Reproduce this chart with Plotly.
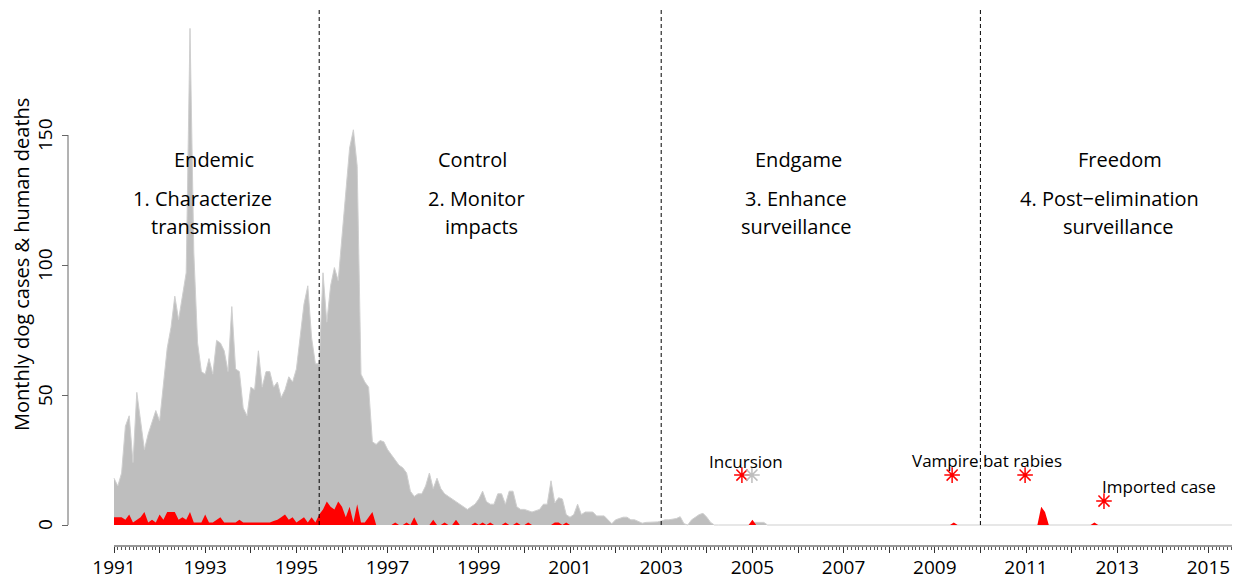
import plotly.graph_objects as go

# ---------------- data ----------------
start_year = 1991
# Monthly dog cases (grey), one list per year, Jan..Dec
dog_1991 = [18, 15, 20, 38, 42, 24, 51, 40, 29, 35, 40, 44]
dog_1992 = [40, 55, 68, 76, 88, 79, 88, 97, 191, 105, 70, 59]
dog_1993 = [58, 64, 58, 71, 70, 67, 59, 84, 60, 59, 45, 42]
dog_1994 = [53, 52, 67, 53, 59, 59, 53, 55, 49, 52, 57, 55]
dog_1995 = [60, 72, 85, 92, 72, 62, 62, 97, 78, 92, 99, 94]
dog_1996 = [110, 128, 145, 152, 138, 58, 55, 53, 32, 31, 32.5, 32]
dog_1997 = [29, 27, 25, 23, 22, 20, 13, 11, 12, 12, 15, 20]
dog_1998 = [14, 18, 14, 12, 11, 10, 9, 8, 7, 6, 7, 8]
dog_1999 = [10, 13, 9, 8, 8, 12, 12, 8, 13, 13, 7, 6]
dog_2000 = [6, 5.5, 5, 5.5, 6, 8, 8, 17, 8.5, 10.5, 10, 4]
dog_2001 = [3, 4, 8, 4, 5, 5, 5, 3.5, 3.5, 3.5, 2, 0.5]
dog_2002 = [2, 2.5, 3, 3, 2, 2, 1.5, 0.7, 1, 1, 1, 1.2]
dog_2003 = [1.5, 2, 2, 2.2, 2.5, 3.2, 0.5, 0, 2, 3, 4, 4.5]
dog_2004 = [3, 1, 0, 0, 0, 0, 0, 0, 0, 0, 0, 0]
dog_2005 = [1, 1, 1, 1, 0, 0, 0, 0, 0, 0, 0, 0]
dog_2006 = [0, 0, 0, 0, 0, 0, 0, 0, 0, 0, 0, 0]
dog_2007 = [0, 0, 0, 0, 0, 0, 0, 0, 0, 0, 0, 0]
dog_2008 = [0, 0, 0, 0, 0, 0, 0, 0, 0, 0, 0, 0]
dog_2009 = [0, 0, 0, 0, 0, 0, 0, 0, 0, 0, 0, 0]
dog_2010 = [0, 0, 0, 0, 0, 0, 0, 0, 0, 0, 0, 0]
dog_2011 = [0, 0, 0, 0, 0, 0, 0, 0, 0, 0, 0, 0]
dog_2012 = [0, 0, 0, 0, 0, 0, 0, 0, 0, 0, 0, 0]
dog_2013 = [0, 0, 0, 0, 0, 0, 0, 0, 0, 0, 0, 0]
dog_2014 = [0, 0, 0, 0, 0, 0, 0, 0, 0, 0, 0, 0]
dog_2015 = [0, 0, 0, 0, 0, 0, 0, 0, 0, 0]

# Monthly human deaths (red)
hum_1991 = [3, 3, 3, 2, 4, 1, 2, 3, 5, 1, 2, 1]
hum_1992 = [4, 2, 5, 5, 5, 2, 3, 2, 5, 1, 1, 1]
hum_1993 = [4, 1, 1, 2, 3, 1, 1, 1, 1, 2, 1, 1]
hum_1994 = [1, 1, 1, 1, 1, 1, 1.5, 2, 3, 4, 2, 3]
hum_1995 = [1, 2, 3, 1, 3, 1, 4, 6, 9, 7, 6, 9]
hum_1996 = [7, 3, 7, 1, 8, 1, 1, 3, 5, 0, 0, 0]
hum_1997 = [0, 0, 1, 0, 0, 1, 0, 3, 0, 0, 0, 0]
hum_1998 = [2, 0, 0, 1, 0, 0, 2, 0, 0, 0, 0, 1]
hum_1999 = [0, 1, 0, 1, 0, 0, 0, 1, 0, 0, 1, 0]
hum_2000 = [0, 1, 0, 0, 0, 0, 0, 0, 1, 1, 0, 1]
hum_2001 = [0, 0, 0, 0, 0, 0, 0, 0, 0, 0, 0, 0]
hum_2002 = [0, 0, 0, 0, 0, 0, 0, 0, 0, 0, 0, 0]
hum_2003 = [0, 0, 0, 0, 0, 0, 0, 0, 0, 0, 0, 0]
hum_2004 = [0, 0, 0, 0, 0, 0, 0, 0, 0, 0, 0, 0]
hum_2005 = [2, 0, 0, 0, 0, 0, 0, 0, 0, 0, 0, 0]
hum_2006 = [0, 0, 0, 0, 0, 0, 0, 0, 0, 0, 0, 0]
hum_2007 = [0, 0, 0, 0, 0, 0, 0, 0, 0, 0, 0, 0]
hum_2008 = [0, 0, 0, 0, 0, 0, 0, 0, 0, 0, 0, 0]
hum_2009 = [0, 0, 0, 0, 0, 1, 0, 0, 0, 0, 0, 0]
hum_2010 = [0, 0, 0, 0, 0, 0, 0, 0, 0, 0, 0, 0]
hum_2011 = [0, 0, 0, 0, 7, 5, 0, 0, 0, 0, 0, 0]
hum_2012 = [0, 0, 0, 0, 0, 0, 1, 0, 0, 0, 0, 0]
hum_2013 = [0, 0, 0, 0, 0, 0, 0, 0, 0, 0, 0, 0]
hum_2014 = [0, 0, 0, 0, 0, 0, 0, 0, 0, 0, 0, 0]
hum_2015 = [0, 0, 0, 0, 0, 0, 0, 0, 0, 0]

dog_years = [dog_1991, dog_1992, dog_1993, dog_1994, dog_1995, dog_1996, dog_1997,
             dog_1998, dog_1999, dog_2000, dog_2001, dog_2002, dog_2003, dog_2004,
             dog_2005, dog_2006, dog_2007, dog_2008, dog_2009, dog_2010, dog_2011,
             dog_2012, dog_2013, dog_2014, dog_2015]
hum_years = [hum_1991, hum_1992, hum_1993, hum_1994, hum_1995, hum_1996, hum_1997,
             hum_1998, hum_1999, hum_2000, hum_2001, hum_2002, hum_2003, hum_2004,
             hum_2005, hum_2006, hum_2007, hum_2008, hum_2009, hum_2010, hum_2011,
             hum_2012, hum_2013, hum_2014, hum_2015]

# Phases
phase_bounds = [1995.5, 2003.0, 2010.0]
phase_titles = ["Endemic", "Control", "Endgame", "Freedom"]
phase_title_x = [1993.19, 1998.87, 2006.0, 2013.06]
goal_line1 = ["1. Characterize", "2. Monitor", "3. Enhance", "4. Post\u2212elimination"]
goal_line1_x = [1992.95, 1998.94, 2005.96, 2012.84]
goal_line2 = ["transmission", "impacts", "surveillance", "surveillance"]
goal_line2_x = [1993.13, 1999.07, 2005.96, 2013.02]
text_levels = [140.4, 125.4, 115.0]

# Events (asterisks) and labels
event_x = [2004.77, 2004.99, 2009.38, 2010.98, 2012.71]
event_y = [19.2, 19.2, 19.2, 19.2, 9.2]
event_col = ["#FF0000", "#BEBEBE", "#FF0000", "#FF0000", "#FF0000"]
event_labels = ["Incursion", "Vampire bat rabies", "Imported case"]
event_label_x = [2004.86, 2010.14, 2013.92]
event_label_y = [24.6, 25.0, 15.0]

x_tick_years = list(range(1991, 2016))
y_tick_vals = [0, 50, 100, 150]

# ---------------- build series ----------------
def flatten(blocks):
    xs, ys = [], []
    for i, blk in enumerate(blocks):
        for m, v in enumerate(blk):
            xs.append(start_year + i + m / 12.0)
            ys.append(v)
    return xs, ys

dog_x, dog_y = flatten(dog_years)
hum_x, hum_y = flatten(hum_years)

FONT = "Open Sans"

# page has an 8px body margin -> figure is drawn 8px right/down
OFF = 8
W, H = 1240 - OFF, 583 - OFF
plot_bottom_px = 546 - OFF
y0_px = 525 - OFF
px_per_unit = 2.6
y_lo = -(plot_bottom_px - y0_px) / px_per_unit
y_hi = y0_px / px_per_unit
px_per_year = 45.6
x1991_px = 114 - OFF
x_left_px = 100 - OFF
x_lo = 1991 - (x1991_px - x_left_px) / px_per_year
x_hi = 1991 + (W - x1991_px) / px_per_year
yaxis_pos = (68 - OFF) / W
ylab_pos = (45 - OFF) / W

minor_vals = [y + m / 12.0 for y in range(1991, 2016) for m in range(1, 12)
              if y + m / 12.0 < x_hi]

fig = go.Figure()
fig.add_trace(go.Scatter(x=dog_x, y=dog_y, mode="lines", fill="tozeroy",
                         fillcolor="#BEBEBE", line=dict(color="#cfcfcf", width=1),
                         hoverinfo="skip", showlegend=False))
fig.add_trace(go.Scatter(x=hum_x, y=hum_y, mode="lines", fill="tozeroy",
                         fillcolor="#FF0000", line=dict(color="#FF0000", width=0),
                         hoverinfo="skip", showlegend=False))
fig.add_trace(go.Scatter(x=event_x, y=event_y, mode="markers",
                         marker=dict(symbol="asterisk-open", size=13, color=event_col,
                                     line=dict(color=event_col, width=1.5)),
                         hoverinfo="skip", showlegend=False))

fig.update_layout(
    template="none",
    width=W, height=H,
    margin=dict(l=0, r=0, t=0, b=H - plot_bottom_px, pad=0),
    paper_bgcolor="white", plot_bgcolor="white",
    font=dict(family=FONT, color="black"),
    xaxis=dict(domain=[x_left_px / W, 1], range=[x_lo, x_hi], showgrid=False,
               zeroline=False, showline=False, automargin=False,
               tickmode="array", tickvals=x_tick_years,
               ticktext=[str(y) if y % 2 == 1 else "" for y in x_tick_years],
               ticks="outside", ticklen=6, tickwidth=1, tickcolor="#333",
               ticklabelstandoff=-2,
               tickfont=dict(family=FONT, size=19, color="black"),
               minor=dict(tickmode="array", tickvals=minor_vals, ticks="outside",
                          ticklen=3, tickwidth=1, tickcolor="#555", showgrid=False)),
    yaxis=dict(domain=[0, 1], range=[y_lo, y_hi], anchor="free", position=yaxis_pos,
               showgrid=False, zeroline=False, showline=False, automargin=False,
               tickmode="array", tickvals=y_tick_vals, showticklabels=False,
               ticks="outside", ticklen=6, tickwidth=1, tickcolor="#666"),
)

# axis lines (R style: limited extents)
fig.add_shape(type="line", xref="x", yref="paper", x0=1991, x1=x_hi, y0=0, y1=0,
              line=dict(color="#333", width=1))
fig.add_shape(type="line", xref="paper", yref="y", x0=yaxis_pos, x1=yaxis_pos, y0=0, y1=150,
              line=dict(color="#666", width=1))

# y tick labels (rotated, parallel to the axis)
for v in y_tick_vals:
    fig.add_annotation(x=ylab_pos, y=v, xref="paper", yref="y", text=str(v),
                       textangle=-90, showarrow=False, xanchor="center", yanchor="middle",
                       font=dict(family=FONT, size=19, color="black"))

# phase separators
for b in phase_bounds:
    fig.add_shape(type="line", xref="x", yref="y", x0=b, x1=b, y0=0, y1=199,
                  line=dict(color="black", width=1, dash="4px,3px"))

# phase text
for i in range(4):
    for txt, xx, yy in [(phase_titles[i], phase_title_x[i], text_levels[0]),
                        (goal_line1[i], goal_line1_x[i], text_levels[1]),
                        (goal_line2[i], goal_line2_x[i], text_levels[2])]:
        fig.add_annotation(x=xx, y=yy, xref="x", yref="y", text=txt, showarrow=False,
                           xanchor="center", yanchor="middle",
                           font=dict(family=FONT, size=20, color="black"))

for txt, xx, yy in zip(event_labels, event_label_x, event_label_y):
    fig.add_annotation(x=xx, y=yy, xref="x", yref="y", text=txt, showarrow=False,
                       xanchor="center", yanchor="middle",
                       font=dict(family=FONT, size=17, color="black"))

# y-axis title
fig.add_annotation(x=(21 - OFF) / W, y=100, xref="paper", yref="y",
                   text="Monthly dog cases & human deaths", textangle=-90,
                   showarrow=False, xanchor="center", yanchor="middle",
                   font=dict(family=FONT, size=20, color="black"))

fig.write_html("out.html")
